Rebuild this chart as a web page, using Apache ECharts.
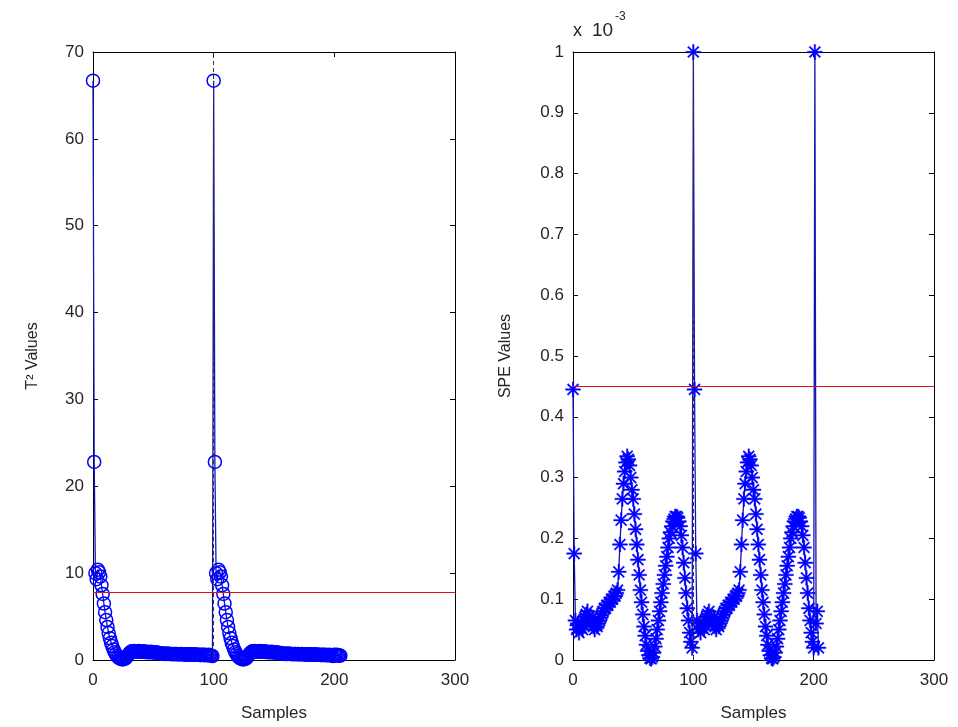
<!DOCTYPE html>
<html>
<head>
<meta charset="utf-8">
<script src="https://cdn.jsdelivr.net/npm/echarts@6/dist/echarts.min.js"></script>
<style>
  html, body { margin: 0; padding: 0; background: #fff; }
  #chart { width: 958px; height: 727px; }
</style>
</head>
<body>
<div id="chart"></div>
<script>
// one pass of T^2 values (samples 0..99), repeated for the second pass
const t2Cycle = [
    66.7, 22.8, 10.0, 9.3, 10.4, 10.1, 9.6, 8.6, 7.6, 6.5, 5.5, 4.6, 3.8, 3.1, 2.5, 2.0, 1.6, 1.2, 0.9, 0.65,
    0.45, 0.3, 0.2, 0.12, 0.08, 0.08, 0.12, 0.2, 0.35, 0.55, 0.75, 0.9, 1.0,
    1.0, 1.05, 1.0, 0.95, 1.0, 1.05, 1.0, 0.95, 0.95, 1.0, 0.95, 0.9, 0.95, 0.9, 0.9, 0.95, 0.9, 0.85, 0.9, 0.85, 0.85, 0.8, 0.8,
    0.75, 0.75, 0.7, 0.75, 0.7, 0.7, 0.75, 0.7, 0.7, 0.7, 0.65, 0.7, 0.7, 0.65, 0.7, 0.65, 0.65, 0.7, 0.65, 0.65,
    0.65, 0.6, 0.65, 0.65, 0.6, 0.65, 0.6, 0.6, 0.65, 0.6, 0.6, 0.6, 0.6, 0.55, 0.6, 0.6, 0.55, 0.6, 0.55, 0.55,
    0.6, 0.55, 0.5, 0.45
];
const t2Tail = [0.6, 0.55, 0.6, 0.5, 0.55, 0.5];
const t2Limit = 7.8;

// SPE values in units of 1e-3
const speCycle = [
    0.445, 0.175,
    0.065, 0.05, 0.06, 0.045, 0.055, 0.06, 0.05, 0.065, 0.07, 0.075, 0.08, 0.07, 0.065, 0.06, 0.07, 0.055, 0.05, 0.06, 0.055, 0.06,
    0.065, 0.07, 0.075, 0.08, 0.085, 0.085, 0.09, 0.09, 0.095, 0.095, 0.1, 0.1, 0.105, 0.105, 0.11, 0.115,
    0.145, 0.19, 0.23, 0.265, 0.29, 0.31, 0.325, 0.335, 0.33,
    0.32, 0.3, 0.28, 0.265, 0.24, 0.215, 0.19, 0.165, 0.14, 0.115, 0.095, 0.075, 0.055, 0.04, 0.025, 0.015, 0.008, 0.003, 0.002,
    0.005, 0.012, 0.022, 0.035, 0.05, 0.065, 0.08, 0.095, 0.11, 0.125, 0.14, 0.155, 0.17, 0.185, 0.2, 0.21, 0.22, 0.228, 0.232, 0.236, 0.236, 0.234,
    0.228, 0.22, 0.205, 0.185, 0.16, 0.135, 0.11, 0.085, 0.065, 0.045, 0.03, 0.02
];
const speSpike = 1.0;
const speTail = [0.06, 0.08, 0.02];
const speLimit = 0.452;

const faultSample = 100;

const t2Values = [...t2Cycle, ...t2Cycle, ...t2Tail];
const speValues = [...speCycle, speSpike, ...speCycle, speSpike, ...speTail];

const toPairs = arr => arr.map((v, i) => [i, v]);

const blue = '#0000ff';
const lineBlue = '#1414b4';
const textColor = '#262626';
const font = "'Liberation Sans', Arial, sans-serif";
const starPath = 'path://M0 9L20 9L20 11L0 11Z M9 0L11 0L11 20L9 20Z M2.2 3.6L3.6 2.2L17.8 16.4L16.4 17.8Z M16.4 2.2L17.8 3.6L3.6 17.8L2.2 16.4Z';

function boxAxis(gridIndex, pos, extra) {
    return Object.assign({
        gridIndex: gridIndex,
        type: 'value',
        position: pos,
        axisLine: { show: true, onZero: false, lineStyle: { color: '#000', width: 1 } },
        axisTick: { show: true, inside: true, length: 5, lineStyle: { color: '#000' } },
        axisLabel: { show: false },
        splitLine: { show: false }
    }, extra);
}

function mainX(gridIndex) {
    return boxAxis(gridIndex, 'bottom', {
        min: 0, max: 300, interval: 100,
        name: 'Samples', nameLocation: 'middle', nameGap: 45,
        nameTextStyle: { fontSize: 17, color: textColor, fontFamily: font },
        axisLabel: { show: true, fontSize: 17, color: textColor, fontFamily: font, margin: 12 }
    });
}

function mainY(gridIndex, max, step, name, gap) {
    return boxAxis(gridIndex, 'left', {
        min: 0, max: max, interval: step,
        name: name, nameLocation: 'middle', nameGap: gap,
        nameTextStyle: { fontSize: 16, color: textColor, fontFamily: font },
        axisLabel: { show: true, fontSize: 17, color: textColor, fontFamily: font, margin: 9 }
    });
}

function limitLines(limit) {
    return {
        silent: true,
        symbol: 'none',
        label: { show: false },
        data: [
            { yAxis: limit, lineStyle: { color: '#e01010', width: 1, type: 'solid' } },
            { xAxis: faultSample, lineStyle: { color: '#333', width: 1, type: [4, 3] } }
        ]
    };
}

const chart = echarts.init(document.getElementById('chart'));

chart.setOption({
    animation: false,
    backgroundColor: '#fff',
    grid: [
        { left: 93, top: 52, width: 362, height: 608 },
        { left: 573, top: 52, width: 361, height: 608 }
    ],
    xAxis: [
        mainX(0),
        boxAxis(0, 'top', { min: 0, max: 300, interval: 100 }),
        mainX(1),
        boxAxis(1, 'top', { min: 0, max: 300, interval: 100 })
    ],
    yAxis: [
        mainY(0, 70, 10, 'T² Values', 52),
        boxAxis(0, 'right', { min: 0, max: 70, interval: 10 }),
        mainY(1, 1, 0.1, 'SPE Values', 59),
        boxAxis(1, 'right', { min: 0, max: 1, interval: 0.1 })
    ],
    // exponent label above the SPE axis
    graphic: [
        { type: 'text', left: 573, top: 22, style: { text: 'x', fontSize: 18, fill: textColor, fontFamily: font } },
        { type: 'text', left: 592, top: 21, style: { text: '10', fontSize: 19, fill: textColor, fontFamily: font } },
        { type: 'text', left: 615, top: 11, style: { text: '-3', fontSize: 12, fill: textColor, fontFamily: font } }
    ],
    series: [
        {
            name: 'T2',
            type: 'line',
            xAxisIndex: 0,
            yAxisIndex: 0,
            data: toPairs(t2Values),
            showAllSymbol: true,
            symbol: 'circle',
            symbolSize: 13,
            lineStyle: { color: lineBlue, width: 1.3 },
            itemStyle: { color: 'rgba(0,0,0,0)', borderColor: blue, borderWidth: 1.5 },
            markLine: limitLines(t2Limit),
            z: 3
        },
        {
            name: 'SPE',
            type: 'line',
            xAxisIndex: 2,
            yAxisIndex: 2,
            data: toPairs(speValues),
            showAllSymbol: true,
            symbol: starPath,
            symbolSize: 15,
            lineStyle: { color: lineBlue, width: 1.3 },
            itemStyle: { color: blue, borderColor: blue, borderWidth: 0.4 },
            markLine: limitLines(speLimit),
            z: 3
        }
    ]
});
</script>
</body>
</html>
